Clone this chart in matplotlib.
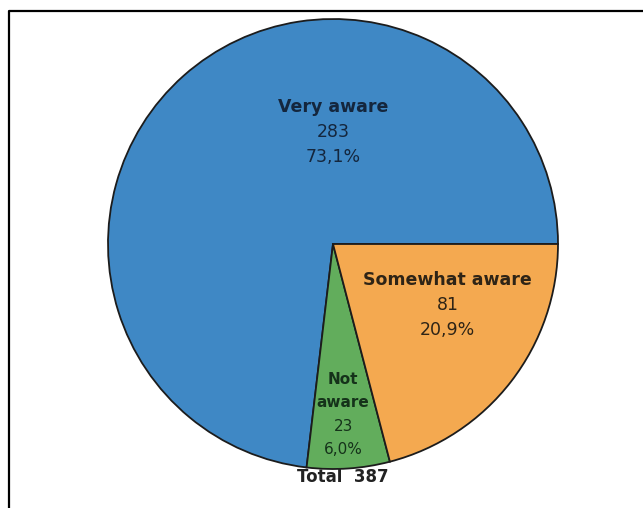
import matplotlib
matplotlib.use("Agg")
from matplotlib import pyplot as plt
from matplotlib.lines import Line2D

# data
labels = ['Very aware', 'Not aware', 'Somewhat aware']
counts = [283, 23, 81]
pcts = ['73,1%', '6,0%', '20,9%']
total = 387
colors = ['#3f88c5', '#62ad5c', '#f4a950']
text_colors = ['#14263d', '#15321a', '#2e2416']

plt.rcParams['font.family'] = ['DejaVu Sans']

W, H = 643, 508
fig = plt.figure(figsize=(W / 100, H / 100), dpi=100)
fig.patch.set_facecolor('white')

# frame lines at left and top
fig.add_artist(Line2D([9 / W, 9 / W, 1], [0, 1 - 11 / H, 1 - 11 / H],
                      color='black', lw=1.6, transform=fig.transFigure))

ax = fig.add_axes([108 / W, 39 / H, 450 / W, 450 / H])
wedges, _ = ax.pie(counts, colors=colors, startangle=0, counterclock=True,
                   wedgeprops=dict(edgecolor='#1c1c1c', linewidth=1.3))
ax.set_xlim(-1, 1)
ax.set_ylim(-1, 1)
ax.set_aspect('equal')
ax.axis('off')


def block(x, y, lines, weights, color, size, step):
    # stack lines downward from (x, y), step in points
    for k, (s, w) in enumerate(zip(lines, weights)):
        ax.annotate(s, (x, y), xytext=(0, -k * step), textcoords='offset points',
                    ha='center', va='center', fontsize=size, fontweight=w, color=color)


block(0.0, 0.61, [labels[0], str(counts[0]), pcts[0]],
      ['bold', 'normal', 'normal'], text_colors[0], 12.5, 18)
block(0.51, -0.16, [labels[2], str(counts[2]), pcts[2]],
      ['bold', 'normal', 'normal'], text_colors[2], 12.5, 18)
block(0.045, -0.6, ['Not', 'aware', str(counts[1]), pcts[1]],
      ['bold', 'bold', 'normal', 'normal'], text_colors[1], 11, 17)

fig.text(343 / W, 1 - 477 / H, 'Total  ' + str(total), ha='center', va='center',
         fontsize=12, fontweight='bold', color='#222222')

fig.savefig('out.png', dpi=100)
